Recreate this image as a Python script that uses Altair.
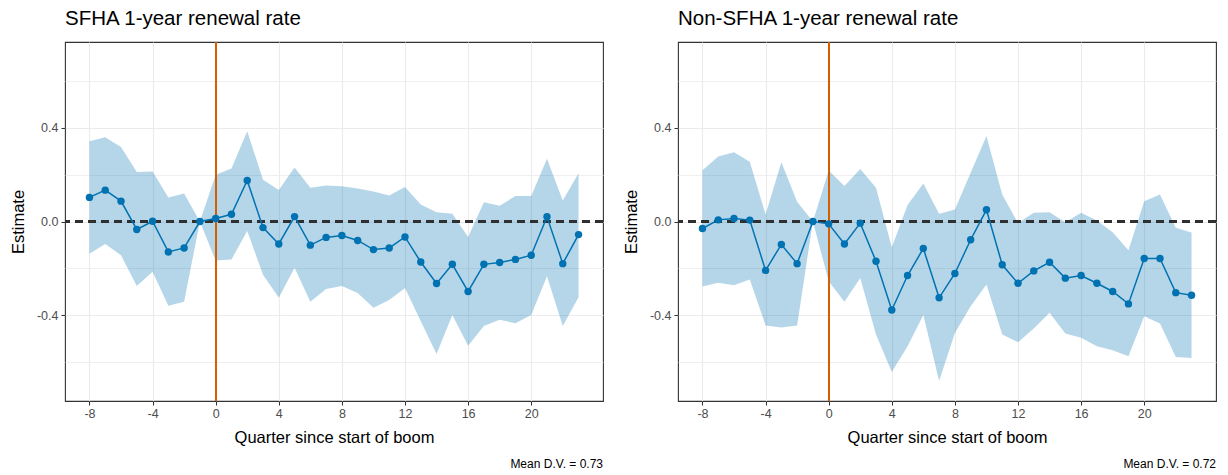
import altair as alt
import pandas as pd

quarters = list(range(-8, 24))

sfha_est = [0.103, 0.134, 0.087, -0.034, 0.001, -0.130, -0.113, 0.0, 0.013, 0.031, 0.175, -0.026,
            -0.096, 0.021, -0.101, -0.068, -0.060, -0.081, -0.120, -0.113, -0.066, -0.173,
            -0.265, -0.183, -0.299, -0.183, -0.175, -0.162, -0.144, 0.020, -0.180, -0.056]
sfha_hi = [0.343, 0.360, 0.318, 0.211, 0.214, 0.103, 0.120, 0.0, 0.200, 0.226, 0.386, 0.178,
           0.135, 0.231, 0.144, 0.154, 0.151, 0.141, 0.128, 0.111, 0.147, 0.073,
           0.040, 0.033, -0.066, 0.082, 0.067, 0.109, 0.109, 0.268, 0.090, 0.206]
sfha_lo = [-0.138, -0.096, -0.144, -0.276, -0.215, -0.360, -0.343, 0.0, -0.167, -0.162, -0.041, -0.227,
           -0.326, -0.198, -0.343, -0.288, -0.276, -0.306, -0.369, -0.335, -0.284, -0.426,
           -0.566, -0.400, -0.531, -0.447, -0.420, -0.435, -0.400, -0.234, -0.447, -0.324]

non_est = [-0.030, 0.007, 0.013, 0.006, -0.209, -0.098, -0.180, 0.0, -0.010, -0.096, -0.007, -0.170,
           -0.378, -0.231, -0.115, -0.326, -0.222, -0.078, 0.050, -0.185, -0.264, -0.211,
           -0.174, -0.242, -0.231, -0.264, -0.299, -0.352, -0.158, -0.158, -0.304, -0.315]
non_hi = [0.219, 0.278, 0.296, 0.255, 0.030, 0.253, 0.084, 0.0, 0.218, 0.152, 0.224, 0.144,
          -0.110, 0.070, 0.162, 0.033, 0.051, 0.208, 0.365, 0.115, -0.006, 0.037,
          0.040, -0.003, 0.037, 0.004, -0.046, -0.123, 0.087, 0.115, -0.027, -0.047]
non_lo = [-0.278, -0.262, -0.272, -0.248, -0.444, -0.453, -0.444, 0.0, -0.255, -0.343, -0.241, -0.483,
          -0.643, -0.533, -0.400, -0.682, -0.476, -0.362, -0.269, -0.483, -0.516, -0.457,
          -0.390, -0.479, -0.497, -0.533, -0.550, -0.576, -0.405, -0.436, -0.579, -0.583]

titles = ["SFHA 1-year renewal rate", "Non-SFHA 1-year renewal rate"]
captions = ["Mean D.V. = 0.73", "Mean D.V. = 0.72"]
x_ticks = [-8, -4, 0, 4, 8, 12, 16, 20]
y_grid = [-0.6, -0.4, -0.2, 0.0, 0.2, 0.4, 0.6]

FONT = "Liberation Sans"
W, H = 538, 359
BLUE = "#0072B2"
ORANGE = "#D55E00"

xscale = alt.Scale(domain=[-9.55, 24.55], nice=False, zero=False)
yscale = alt.Scale(domain=[-0.767, 0.767], nice=False, zero=False)

xaxis = alt.Axis(values=x_ticks, title="Quarter since start of boom", grid=True,
                 gridColor="#EBEBEB", gridWidth=1.1, domain=False, tickColor="#333333",
                 labelExpr="replace(format(datum.value, 'd'), '\u2212', '-')",
                 tickSize=4, labelPadding=2, labelColor="#4D4D4D", labelFontSize=12.5,
                 labelFont=FONT, titleFont=FONT, titleFontSize=16.5, titleFontWeight="normal",
                 titleColor="#000000", titlePadding=10)
minor = "abs(round(datum.value*10)) % 4 != 0"
yaxis = alt.Axis(values=y_grid, title="Estimate", grid=True, gridColor="#EBEBEB",
                 gridWidth={"condition": {"test": minor, "value": 0.8}, "value": 1.1},
                 domain=False, tickColor="#333333",
                 tickOpacity={"condition": {"test": minor, "value": 0}, "value": 1},
                 labelExpr="abs(round(datum.value*10)) % 4 == 0 ? replace(format(datum.value, '.1f'), '\u2212', '-') : ''",
                 tickSize=4, labelPadding=3, labelColor="#4D4D4D", labelFontSize=12.5,
                 labelFont=FONT, titleFont=FONT, titleFontSize=16.5, titleFontWeight="normal",
                 titleColor="#000000", titlePadding=10)


def panel(est, lo, hi, title, caption):
    df = pd.DataFrame({"q": quarters, "est": est, "lo": lo, "hi": hi})
    base = alt.Chart(df)
    band = base.mark_area(color=BLUE, opacity=0.29).encode(
        x=alt.X("q:Q", scale=xscale, axis=xaxis),
        y=alt.Y("lo:Q", scale=yscale, axis=yaxis),
        y2="hi:Q",
    )
    hline = base.mark_rule(color="#333333", strokeDash=[8, 5], strokeWidth=1.4, opacity=0.85).encode(
        y=alt.datum(0, scale=yscale)
    )
    vline = base.mark_rule(color=ORANGE, strokeWidth=1.3).encode(x=alt.datum(0, scale=xscale))
    line = base.mark_line(color=BLUE, strokeWidth=1.5).encode(x="q:Q", y="est:Q")
    pts = base.mark_circle(color=BLUE, size=55, opacity=1).encode(x="q:Q", y="est:Q")
    cap = alt.Chart(pd.DataFrame({"t": [caption]})).mark_text(
        align="right", baseline="middle", font=FONT, fontSize=12, color="#000000"
    ).encode(text="t:N", x=alt.value(W), y=alt.value(H + 63))
    return alt.layer(band, vline, hline, line, pts, cap).properties(
        width=W, height=H,
        view=alt.ViewBackground(stroke="#333333", strokeWidth=1.1, fill="white"),
        title=alt.TitleParams(title, anchor="start", frame="group", font=FONT, fontSize=20.5,
                              fontWeight="normal", color="#000000", offset=12),
    )


chart = alt.hconcat(
    panel(sfha_est, sfha_lo, sfha_hi, titles[0], captions[0]),
    panel(non_est, non_lo, non_hi, titles[1], captions[1]),
    spacing=17,
).properties(
    padding={"left": 9, "top": 8, "right": 10, "bottom": 0}
).configure_view(
    stroke="#333333", strokeWidth=1.1
).configure(background="white")

chart.save("out.html", embed_options={"renderer": "svg", "actions": False})
